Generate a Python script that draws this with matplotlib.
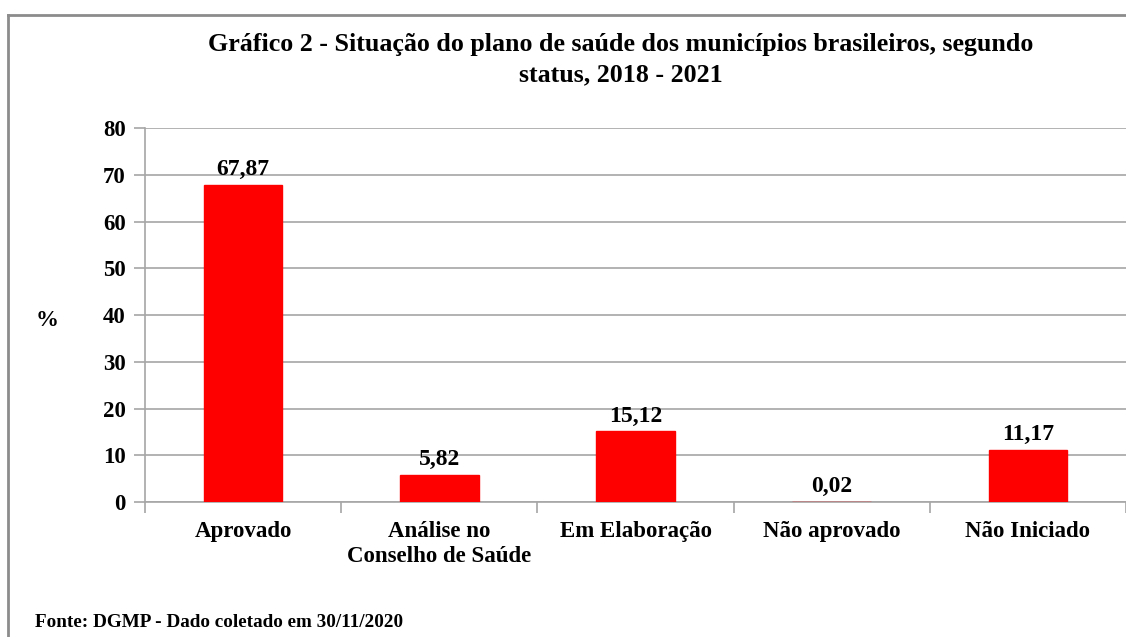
import matplotlib.pyplot as plt
import matplotlib.lines as mlines
import numpy as np

categorias = ['Aprovado', 'Análise no\nConselho de Saúde', 'Em Elaboração', 'Não aprovado', 'Não Iniciado']
valores = [67.87, 5.82, 15.12, 0.02, 11.17]
rotulos = ['67,87', '5,82', '15,12', '0,02', '11,17']

plt.rcParams['font.family'] = ['Liberation Serif', 'DejaVu Serif']
plt.rcParams['font.weight'] = 'bold'

fig = plt.figure(figsize=(11.26, 6.37), dpi=100)
ax = fig.add_axes([0.1288, 0.2119, 0.8712, 0.5871])

x = np.arange(len(categorias))
ax.bar(x, valores, width=0.40, color='#FF0000', edgecolor='#FF0000', linewidth=1.0, zorder=3)
for xi, v, r in zip(x, valores, rotulos):
    ax.text(xi, v + 1.0, r, ha='center', va='bottom', fontsize=17, fontweight='bold')

ax.set_xlim(-0.5, len(categorias) - 0.5)
ax.set_ylim(0, 80)
ax.set_yticks(range(0, 81, 10))
ax.grid(axis='y', color='#A6A6A6', linewidth=1.2, zorder=0)
ax.set_xticks(x)
ax.set_xticklabels(categorias, fontsize=16.5, fontweight='bold', linespacing=1.25)
ax.set_xticks(np.arange(-0.5, len(categorias), 1), minor=True)
ax.tick_params(axis='x', which='major', length=0, pad=14)
ax.tick_params(axis='x', which='minor', length=8, color='#A6A6A6', width=1.2)
ax.tick_params(axis='y', length=8, color='#A6A6A6', width=1.2, pad=6, labelsize=16.5)
for s in ['top', 'right']:
    ax.spines[s].set_visible(False)
for s in ['left', 'bottom']:
    ax.spines[s].set_color('#A6A6A6')
    ax.spines[s].set_linewidth(1.2)

fig.text(0.032, 0.497, '%', fontsize=16.5, fontweight='bold', ha='left', va='center')
fig.text(0.5515, 0.906, 'Gráfico 2 - Situação do plano de saúde dos municípios brasileiros, segundo\nstatus, 2018 - 2021',
         ha='center', va='center', fontsize=18.7, fontweight='bold', linespacing=1.4)
fig.text(0.031, 0.023, 'Fonte: DGMP - Dado coletado em 30/11/2020', ha='left', va='center',
         fontsize=13.8, fontweight='bold')

# moldura
fig.add_artist(mlines.Line2D([0.0075, 1.0], [0.977, 0.977], color='#8C8C8C', linewidth=2))
fig.add_artist(mlines.Line2D([0.0075, 0.0075], [0.0, 0.977], color='#8C8C8C', linewidth=2))

fig.savefig('out.png', dpi=100, facecolor='white')
